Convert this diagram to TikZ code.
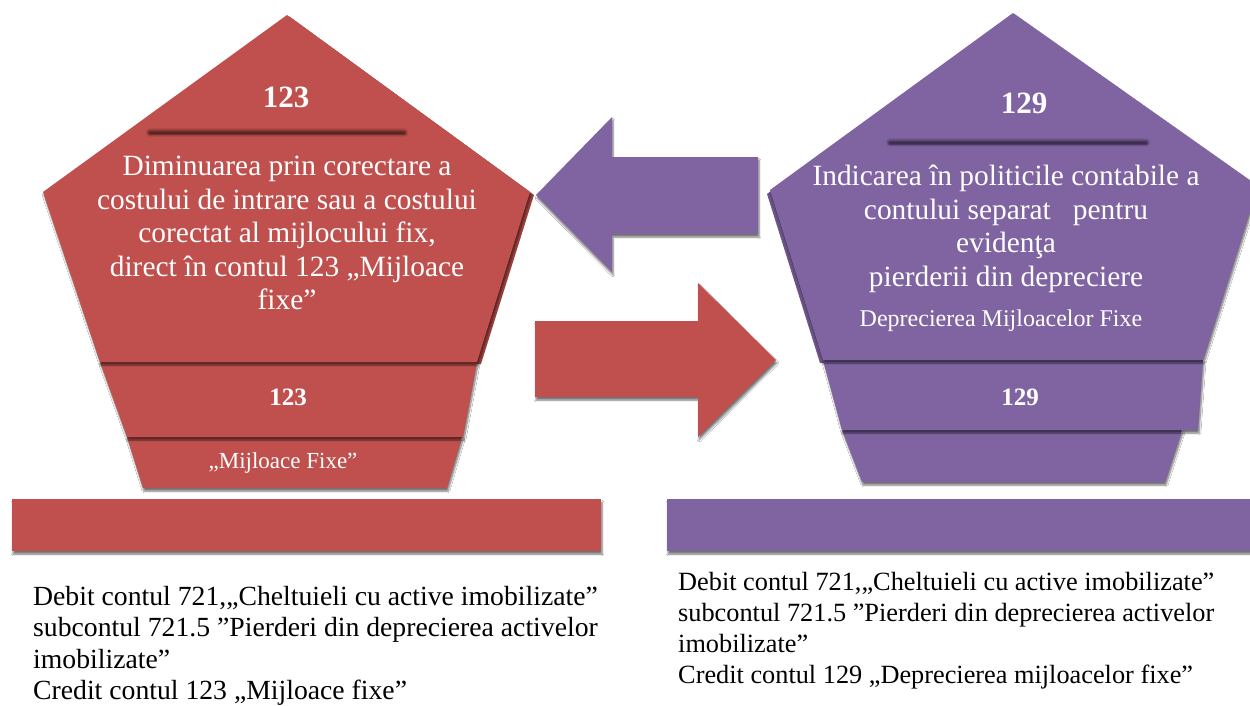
\documentclass[tikz,border=0pt]{standalone}
\usepackage{fontspec}
\setmainfont{Liberation Serif}
\usetikzlibrary{shadows.blur}
\definecolor{cred}{HTML}{C0504D}
\definecolor{cpur}{HTML}{8064A2}
\tikzset{
  layer/.style={fill=#1, blur shadow={shadow xshift=1pt, shadow yshift=-3pt, shadow blur steps=6, shadow opacity=55}},
  backlayer/.style={fill=#1!85!black},
  wt/.style={text=white, align=center, inner sep=0pt},
  bt/.style={text=black, align=left, inner sep=0pt, anchor=north west},
}
\newcommand{\sepbar}[3]{%
  \foreach \w/\o in {9/0.12,7/0.2,5/0.3,3.5/0.5,2/0.8}
    \draw[line width=\w pt, draw=#1!45!black, opacity=\o, line cap=round] (#2) -- (#3);}
\begin{document}
\begin{tikzpicture}[x=1pt,y=-1pt]
\useasboundingbox (0,0) rectangle (1250,706);
\clip (0,0) rectangle (1250,706);
\fill[white] (0,0) rectangle (1250,706);

% ---------- left pentagon (red) ----------
\fill[backlayer=cred] (290,17) -- (46,195) -- (103,364) -- (481,364) -- (534,195) -- cycle;
\fill[layer=cred] (127,437) -- (143,488) -- (447,488) -- (462,437) -- cycle;
\fill[layer=cred] (100,362) -- (127,437) -- (463,437) -- (477,362) -- cycle;
\fill[layer=cred] (287,15) -- (43,192) -- (100,362) -- (477,362) -- (530,192) -- cycle;
\sepbar{cred}{150,133}{404,133}
\node[wt, font=\fontsize{31}{34}\bfseries\selectfont] (l123a) at (286,97) {123};
\node[wt, font=\fontsize{29.4}{33.5}\selectfont] (ltext) at (287,233)
  {Diminuarea prin corectare a\\costului de intrare sau a costului\\corectat al mijlocului fix,\\ direct în contul 123 „Mijloace\\fixe”};
\node[wt, font=\fontsize{25}{28}\bfseries\selectfont] (l123b) at (288,397) {123};
\node[wt, font=\fontsize{23}{26}\selectfont] (lmf) at (283,463) {„Mijloace Fixe”};

% ---------- right pentagon (purple) ----------
\fill[backlayer=cpur] (1010,16) -- (767,194) -- (820,363) -- (1199,363) -- (1252,194) -- cycle;
\fill[layer=cpur] (842,430) -- (862,482) -- (1165,482) -- (1182,430) -- cycle;
\fill[layer=cpur] (823,360) -- (842,430) -- (1198,430) -- (1203,360) -- cycle;
\fill[layer=cpur] (1013,13) -- (770,190) -- (823,360) -- (1203,360) -- (1258,186) -- cycle;
\sepbar{cpur}{890,143}{1146,143}
\node[wt, font=\fontsize{31}{34}\bfseries\selectfont] (r129a) at (1024,103) {129};
\node[wt, font=\fontsize{29.4}{33.5}\selectfont] (rtext) at (1006,229)
  {Indicarea în politicile contabile a\\contului separat\ \ \ pentru\\evidenţa\\pierderii din depreciere};
\node[wt, font=\fontsize{24}{26}\selectfont] (rdep) at (1001,321) {Deprecierea Mijloacelor Fixe};
\node[wt, font=\fontsize{25}{28}\bfseries\selectfont] (r129b) at (1020,397) {129};

% ---------- arrows ----------
\fill[layer=cpur] (536,195) -- (612,117) -- (612,157) -- (758,157) -- (758,234) -- (612,234) -- (612,272) -- cycle;
\fill[layer=cred] (776,360) -- (698,283) -- (698,321) -- (535,321) -- (535,397) -- (698,397) -- (698,437) -- cycle;

% ---------- bases ----------
\fill[layer=cred] (12,499) rectangle (601,551);
\fill[layer=cpur] (667,499) rectangle (1252,551);

% ---------- bottom texts ----------
\node[bt, font=\fontsize{27.7}{31.3}\selectfont] (lbottom) at (33,586)
  {Debit contul 721,„Cheltuieli cu active imobilizate”\\subcontul 721.5 ”Pierderi din deprecierea activelor\\imobilizate”\\Credit contul 123 „Mijloace fixe”};
\node[bt, font=\fontsize{26.3}{31}\selectfont] (rbottom) at (678,572)
  {Debit contul 721,„Cheltuieli cu active imobilizate”\\subcontul 721.5 ”Pierderi din deprecierea activelor\\imobilizate”\\Credit contul 129 „Deprecierea mijloacelor fixe”};
\end{tikzpicture}
\end{document}
